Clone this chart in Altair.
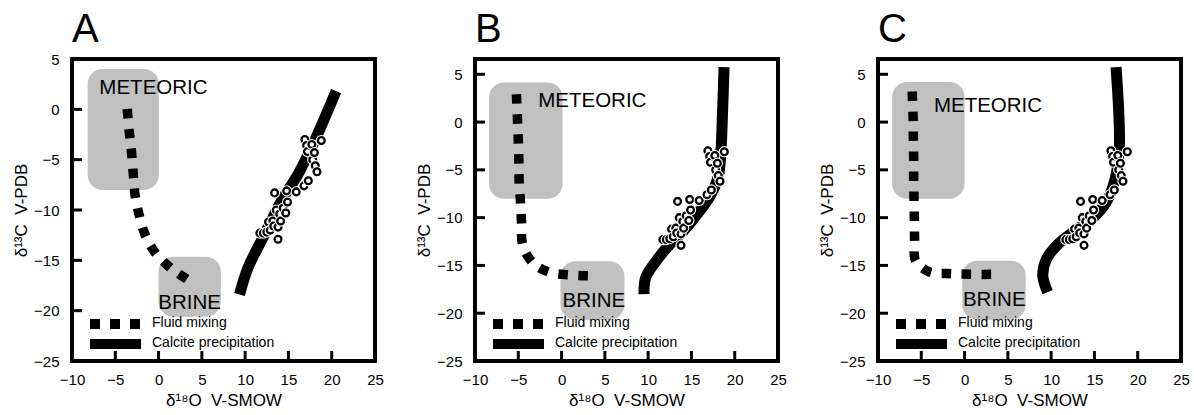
import altair as alt
import pandas as pd

FONT = "Liberation Sans"

# ---------------- data ----------------
PANELS = ["A", "B", "C"]
Y_MAX = [5, 6.6, 6.6]

X_TICKS = [-10, -5, 0, 5, 10, 15, 20, 25]
Y_TICKS = [-25, -20, -15, -10, -5, 0, 5]

# measured calcite samples (same in all three panels)
SAMPLE_D18O = [16.9, 18.8, 17.1, 17.7, 17.2, 18.0, 17.8, 18.1, 18.3, 17.3, 16.8, 15.9,
               14.8, 13.4, 14.9, 14.4, 14.7, 14.0, 13.6, 14.1, 13.2, 12.7, 13.3, 13.8,
               11.7, 12.1, 12.5, 12.9, 13.8]
SAMPLE_D13C = [-3.0, -3.1, -3.6, -3.5, -4.2, -4.3, -5.0, -5.6, -6.2, -7.1, -7.6, -8.2,
               -8.1, -8.3, -9.2, -9.8, -10.3, -10.4, -10.0, -11.1, -11.1, -11.2, -11.6, -11.7,
               -12.3, -12.3, -12.2, -12.0, -12.9]

# fluid mixing curves
MIX_X = [
    [-3.62, -3.38, -3.12, -2.92, -2.73, -2.27, -1.58, -0.42, 1.31, 3.31, 3.74],
    [-5.22, -5.09, -5.0, -4.93, -4.9, -4.74, -4.62, -4.5, -3.35, -1.43, 1.08, 3.9],
    [-6.05, -5.95, -5.92, -5.88, -5.88, -5.84, -5.8, -5.77, -5.65, -4.04, -1.61, 0.77, 3.68],
]
MIX_Y = [
    [0.05, -2.3, -4.28, -6.43, -8.42, -10.4, -12.4, -14.2, -15.7, -16.9, -17.15],
    [2.92, 0.2, -1.99, -4.18, -6.28, -8.44, -10.6, -12.8, -14.7, -15.7, -16.0, -16.1],
    [3.2, 0.56, -1.53, -3.73, -5.92, -8.09, -10.25, -12.45, -14.54, -15.69, -15.86, -15.93, -15.93],
]

# calcite precipitation curves
CALC_X = [
    [9.35, 10.35, 12.27, 14.19, 16.12, 18.03, 19.38, 20.5],
    [9.52, 9.71, 10.79, 12.33, 14.26, 15.8, 17.15, 18.11, 18.42, 18.58, 18.77],
    [9.6, 9.04, 9.42, 10.77, 12.69, 14.6, 16.35, 17.38, 17.88, 17.81, 17.5],
]
CALC_Y = [
    [-18.4, -15.7, -12.4, -9.09, -6.43, -3.12, -0.47, 1.8],
    [-18.0, -16.3, -14.7, -12.97, -11.2, -9.48, -7.74, -5.65, -2.86, 0.63, 5.75],
    [-17.8, -16.1, -14.4, -12.8, -11.4, -10.2, -8.4, -6.0, -2.5, 1.0, 5.75],
]

# end-member fields: [meteoric, brine]
BOX_NAMES = ["METEORIC", "BRINE"]
BOX_X1 = [[-8.19, 0.0], [-8.38, -0.12], [-8.37, -0.27]]
BOX_X2 = [[0.03, 7.19], [0.12, 7.26], [0.0, 7.06]]
BOX_Y1 = [[-8.02, -20.6], [-8.03, -20.68], [-8.03, -20.68]]
BOX_Y2 = [[4.0, -14.65], [4.13, -14.57], [4.19, -14.5]]

LABEL_X = [[-6.84, -0.04], [-2.7, 0.12], [-3.54, -0.19]]
LABEL_Y = [[2.08, -19.2], [2.2, -18.76], [1.68, -18.6]]

LEGEND_LABELS = ["Fluid mixing", "Calcite precipitation"]

X_TITLE = "δ¹⁸O\u00a0\u00a0V-SMOW"
Y_TITLE = "δ¹³C\u00a0\u00a0V-PDB"

# ---------------- layout ----------------
W, H = 303, 302
X_MIN, X_MAX, Y_MIN = -10, 25, -25
TICK_LEN = 10  # px, ticks point inward

X_AXIS = alt.Axis(values=X_TICKS, title=X_TITLE, ticks=False, domain=False, grid=False,
                  labelFlush=False, labelOverlap=False,
                  labelPadding=11, labelFontSize=15, labelFont=FONT, labelColor="black",
                  titleFont=FONT, titleFontSize=17, titleFontWeight="normal",
                  titleColor="black", titlePadding=5)
Y_AXIS = alt.Axis(values=Y_TICKS, title=Y_TITLE, ticks=False, domain=False, grid=False,
                  labelFlush=False, labelOverlap=False,
                  labelPadding=13, labelFontSize=15, labelFont=FONT, labelColor="black",
                  titleFont=FONT, titleFontSize=17, titleFontWeight="normal",
                  titleColor="black", titlePadding=8, minExtent=34, maxExtent=34)


def X(ymax):
    return alt.X("x:Q", scale=alt.Scale(domain=[X_MIN, X_MAX], nice=False, zero=False), axis=X_AXIS)


def Y(ymax):
    return alt.Y("y:Q", scale=alt.Scale(domain=[Y_MIN, ymax], nice=False, zero=False), axis=Y_AXIS)


def panel(i):
    ymax = Y_MAX[i]
    boxes = pd.DataFrame({"x": BOX_X1[i], "x2": BOX_X2[i], "y": BOX_Y1[i], "y2": BOX_Y2[i]})
    labels = pd.DataFrame({"x": LABEL_X[i], "y": LABEL_Y[i], "t": BOX_NAMES})
    mix = pd.DataFrame({"x": MIX_X[i], "y": MIX_Y[i], "o": list(range(len(MIX_X[i])))})
    calc = pd.DataFrame({"x": CALC_X[i], "y": CALC_Y[i], "o": list(range(len(CALC_X[i])))})

    # samples: white halo then black ring for each point, drawn left to right
    order = sorted(range(len(SAMPLE_D18O)), key=lambda k: SAMPLE_D18O[k])
    rows = []
    n = 0
    for k in order:
        rows.append({"x": SAMPLE_D18O[k], "y": SAMPLE_D13C[k], "sz": 125, "st": "white", "sw": 0, "o": n}); n += 1
        rows.append({"x": SAMPLE_D18O[k], "y": SAMPLE_D13C[k], "sz": 46, "st": "black", "sw": 2.3, "o": n}); n += 1
    samples = pd.DataFrame(rows)

    # inward tick marks, expressed in data units
    dx = TICK_LEN * (X_MAX - X_MIN) / W
    dy = TICK_LEN * (ymax - Y_MIN) / H
    yt = pd.DataFrame({"y": Y_TICKS, "x": [X_MIN] * len(Y_TICKS), "x2": [X_MIN + dx] * len(Y_TICKS)})
    xt = pd.DataFrame({"x": X_TICKS, "y": [Y_MIN] * len(X_TICKS), "y2": [Y_MIN + dy] * len(X_TICKS)})
    one = pd.DataFrame({"t": [0]})

    base_box = alt.Chart(boxes).mark_rect(cornerRadius=15, color="#c0c0c0").encode(
        x=X(ymax), x2="x2:Q", y=Y(ymax), y2="y2:Q")
    txt = alt.Chart(labels).mark_text(align="left", baseline="middle", fontSize=20.5, font=FONT,
                                      color="black").encode(x=X(ymax), y=Y(ymax), text="t:N")
    mixl = alt.Chart(mix).mark_line(color="black", strokeWidth=9.5, strokeDash=[9.5, 10.5],
                                    strokeCap="butt", interpolate="catmull-rom").encode(
        x=X(ymax), y=Y(ymax), order="o:Q")
    calcl = alt.Chart(calc).mark_line(color="black", strokeWidth=11, strokeCap="butt",
                                      interpolate="catmull-rom").encode(
        x=X(ymax), y=Y(ymax), order="o:Q")
    pts = alt.Chart(samples).mark_point(shape="circle", fill="white", filled=False, opacity=1,
                                        fillOpacity=1).encode(
        x=X(ymax), y=Y(ymax),
        size=alt.Size("sz:Q", scale=None),
        stroke=alt.Stroke("st:N", scale=None),
        strokeWidth=alt.StrokeWidth("sw:Q", scale=None),
        order="o:Q")
    ytk = alt.Chart(yt).mark_rule(color="black", strokeWidth=3, strokeCap="butt").encode(
        x=X(ymax), x2="x2:Q", y=Y(ymax))
    xtk = alt.Chart(xt).mark_rule(color="black", strokeWidth=3, strokeCap="butt").encode(
        x=X(ymax), y=Y(ymax), y2="y2:Q")
    leg_mix = alt.Chart(one).mark_rule(color="black", strokeWidth=10, strokeDash=[10, 10],
                                       strokeCap="butt").encode(
        x=alt.value(18), x2=alt.value(69), y=alt.value(265))
    leg_calc = alt.Chart(one).mark_rule(color="black", strokeWidth=10, strokeCap="butt").encode(
        x=alt.value(18), x2=alt.value(69), y=alt.value(285))
    leg_t1 = alt.Chart(pd.DataFrame({"t": [LEGEND_LABELS[0]]})).mark_text(
        align="left", baseline="middle", fontSize=14, font=FONT, color="black").encode(
        x=alt.value(80), y=alt.value(264), text="t:N")
    leg_t2 = alt.Chart(pd.DataFrame({"t": [LEGEND_LABELS[1]]})).mark_text(
        align="left", baseline="middle", fontSize=14, font=FONT, color="black").encode(
        x=alt.value(80), y=alt.value(284), text="t:N")
    letter = alt.Chart(pd.DataFrame({"t": [PANELS[i]]})).mark_text(
        align="left", baseline="alphabetic", fontSize=40, font=FONT, color="black").encode(
        x=alt.value(0), y=alt.value(-17), text="t:N")

    return alt.layer(base_box, txt, mixl, calcl, pts, ytk, xtk, leg_mix, leg_calc, leg_t1, leg_t2,
                     letter).properties(width=W, height=H)


chart = alt.hconcat(panel(0), panel(1), panel(2), spacing=100, bounds="flush").configure_view(
    stroke="black", strokeWidth=4).properties(
    padding={"left": 10, "top": 8, "right": 2, "bottom": 2}, background="white")

chart.save("out.html", embed_options={"renderer": "svg", "actions": False})
